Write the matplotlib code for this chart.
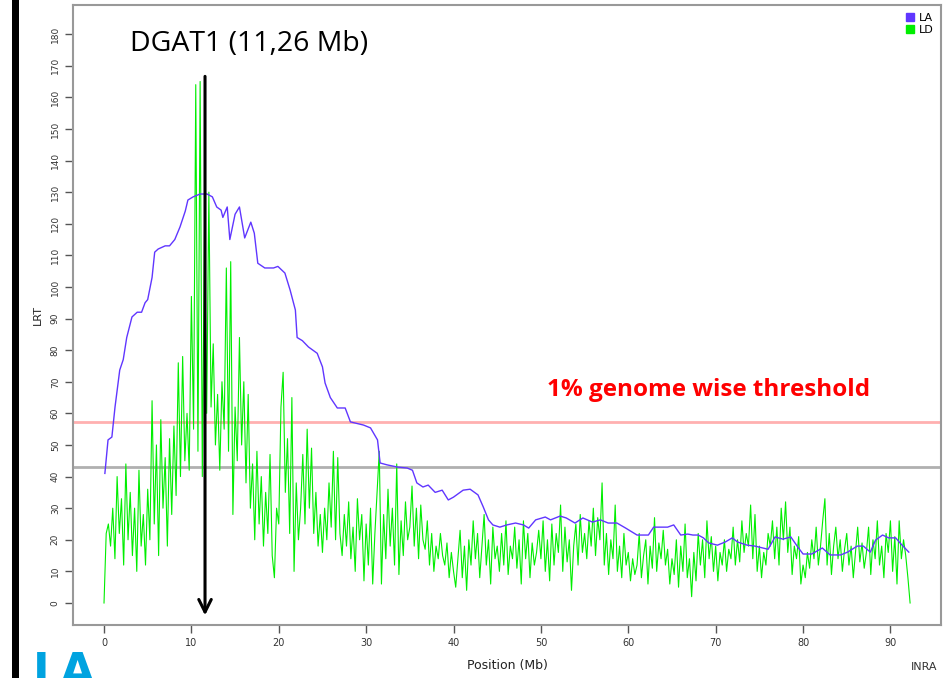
import numpy as np
import matplotlib
matplotlib.use("Agg")
import matplotlib.pyplot as plt
from matplotlib.lines import Line2D
from matplotlib.patches import Rectangle

# LA curve (smooth), key points: position (Mb), LRT
la_pos = [0.1, 0.46, 0.9, 1.26, 1.8, 2.2, 2.6, 3.2, 3.8, 4.3, 4.7, 5.0, 5.5, 5.8, 6.2, 7.0,
          7.5, 8.1, 8.7, 9.3, 9.6, 10.2, 11.0, 11.8, 12.4, 12.9, 13.4, 13.6, 14.1, 14.4, 15.0,
          15.5, 16.1, 16.8, 17.2, 17.6, 18.4, 19.4, 19.9, 20.7, 21.3, 21.9, 22.1, 22.7, 23.4,
          24.4, 25.0, 25.3, 25.9, 26.7, 27.6, 28.2, 29.7, 30.5, 31.3, 31.6, 32.4, 33.6, 34.7,
          35.3, 35.8, 36.5, 37.1, 37.9, 38.7, 39.4, 40.0, 41.1, 41.9, 42.8, 43.4, 44.0, 44.5,
          45.3, 46.1, 47.1, 48.0, 48.6, 49.4, 50.5, 51.1, 52.2, 52.9, 53.9, 54.8, 55.9, 56.8,
          57.7, 58.7, 59.7, 61.0, 62.3, 62.9, 64.5, 65.2, 66.0, 66.8, 67.4, 68.0, 68.6, 69.2,
          70.2, 71.1, 71.9, 72.5, 73.6, 74.5, 76.0, 76.8, 77.7, 78.6, 79.4, 80.0, 81.0, 82.2,
          83.1, 84.3, 85.1, 86.2, 86.9, 87.7, 88.3, 89.1, 89.8, 90.6, 91.1, 92.1]
la_lrt = [41, 51.6, 52.5, 62, 73.7, 77, 84, 90.5, 92, 92, 95, 96, 103, 111, 112, 113,
          113, 115, 119, 124, 127.5, 128.5, 129.4, 129.4, 128.5, 125.3, 124.3, 122, 125.3, 115, 123,
          125.3, 115.5, 120.5, 117, 107.5, 106, 106, 106.5, 104.4, 99, 92.7, 84, 83, 81,
          79, 74.7, 69.6, 65, 61.7, 61.7, 57.3, 56.3, 55.4, 51.6, 44.3, 43.7, 43, 42.7,
          42, 38, 36.7, 37.3, 35, 35.7, 32.6, 33.5, 35.7, 36, 34.2, 30.4, 26.3, 24.7,
          24, 24.7, 25.3, 24.7, 23.7, 26.3, 27.2, 26.3, 27.5, 26.9, 25.3, 26.9, 25.6, 26.3,
          25.3, 25.3, 23.7, 21.5, 21.5, 24, 24, 24.7, 21.5, 21.8, 21.5, 21.5, 20.6, 19,
          18.3, 19.3, 20.6, 19.3, 18.3, 18, 17, 20.9, 20.2, 20.9, 17.7, 15.5, 15.5, 17.4,
          15.2, 15.2, 16.1, 18, 18, 16.1, 19.9, 21.5, 20.6, 20.6, 19, 16.1]

# LD curve, one value every 0.25 Mb from 0 Mb
ld_step = 0.25
ld_lrt = [
    0, 22, 25, 18, 30, 14, 40, 22, 33, 12, 44, 20, 35, 15, 30, 10, 42, 18, 28, 12,
    36, 20, 64, 25, 50, 15, 58, 30, 46, 18, 52, 28, 56, 34, 76, 40, 78, 45, 60, 42,
    97, 55, 164, 48, 165, 40, 118, 60, 130, 62, 82, 50, 66, 42, 70, 55, 106, 48, 108, 28,
    62, 45, 84, 50, 70, 38, 66, 30, 44, 20, 48, 25, 40, 18, 35, 22, 47, 15, 8, 30,
    25, 62, 73, 35, 52, 22, 65, 10, 38, 20, 30, 47, 25, 55, 30, 49, 22, 35, 18, 28,
    16, 30, 20, 38, 24, 48, 20, 46, 22, 15, 28, 18, 32, 14, 24, 10, 33, 20, 28, 7,
    25, 12, 30, 6, 22, 35, 48, 6, 28, 14, 36, 18, 30, 12, 44, 9, 26, 15, 32, 20,
    24, 37, 18, 30, 14, 31, 20, 17, 26, 12, 22, 10, 18, 14, 22, 15, 12, 19, 8, 16,
    10, 5, 14, 23, 8, 18, 4, 20, 12, 26, 14, 22, 8, 18, 28, 12, 20, 6, 24, 14,
    18, 10, 22, 12, 26, 9, 18, 14, 24, 11, 20, 6, 26, 14, 22, 8, 19, 12, 16, 23,
    14, 26, 10, 20, 7, 25, 12, 22, 16, 31, 10, 24, 13, 20, 4, 18, 25, 12, 28, 16,
    22, 14, 26, 18, 30, 15, 27, 20, 38, 12, 22, 9, 20, 14, 31, 10, 18, 8, 22, 12,
    16, 7, 14, 9, 12, 22, 8, 15, 20, 6, 18, 11, 27, 10, 19, 14, 23, 12, 17, 6,
    14, 9, 20, 5, 18, 10, 25, 8, 14, 2, 16, 7, 22, 12, 20, 8, 26, 14, 21, 10,
    18, 7, 16, 12, 20, 10, 17, 14, 24, 12, 20, 13, 26, 16, 22, 18, 31, 14, 28, 10,
    18, 8, 16, 12, 22, 18, 26, 14, 24, 12, 30, 20, 32, 16, 24, 9, 18, 14, 21, 6,
    12, 8, 16, 11, 20, 14, 24, 12, 18, 26, 33, 12, 22, 9, 18, 24, 14, 20, 10, 17,
    22, 12, 18, 8, 16, 24, 13, 19, 11, 16, 24, 9, 20, 14, 26, 12, 18, 8, 22, 16,
    26, 10, 21, 6, 26, 14, 20, 15, 8, 0]
ld_pos = np.arange(len(ld_lrt)) * ld_step

threshold_1pct = 57.3
threshold_grey = 43.0
dgat1_pos = 11.56

blue = '#6036ff'
green = '#00ee00'

fig = plt.figure(figsize=(9.43, 6.78), dpi=100)
ax = fig.add_axes([0.0774, 0.078, 0.9206, 0.9146])

ax.axhline(threshold_1pct, color='#ffb0b0', lw=2)
ax.axhline(threshold_grey, color='#b0b0b0', lw=2)
ax.plot(ld_pos, ld_lrt, color=green, lw=0.8)
ax.plot(la_pos, la_lrt, color=blue, lw=1.0)

ax.set_xlim(-3.55, 95.8)
ax.set_ylim(-7, 189.2)
ax.set_xticks(range(0, 91, 10))
ax.set_yticks(range(0, 181, 10))
ax.tick_params(axis='x', labelsize=7, colors='#555555', labelcolor='#333333', length=6, width=1)
ax.tick_params(axis='y', labelsize=6.5, colors='#555555', labelcolor='#333333', length=6, width=1,
               labelrotation=90)
for lab in ax.get_yticklabels():
    lab.set_va('center')
for s in ax.spines.values():
    s.set_color('#999999')
    s.set_linewidth(1.5)

ax.set_xlabel('Position (Mb)', fontsize=9, color='#222222', labelpad=8)
ax.set_ylabel('LRT', fontsize=8, color='#222222', labelpad=6)

# arrow pointing at DGAT1
ax.annotate('', xy=(dgat1_pos, -4.8), xytext=(dgat1_pos, 167.5),
            arrowprops=dict(arrowstyle='->,head_length=0.9,head_width=0.45', lw=2.2, color='black'))
ax.text(16.6, 176.8, 'DGAT1 (11,26 Mb)', fontsize=20.5, family='Open Sans', ha='center', va='center')
ax.text(69.2, 67.4, '1% genome wise threshold', fontsize=17.5, family='Open Sans',
        fontweight='bold', color='#ff0000', ha='center', va='center')

handles = [Line2D([], [], marker='s', ls='none', color=blue, markersize=6),
           Line2D([], [], marker='s', ls='none', color=green, markersize=6)]
ax.legend(handles, ['LA', 'LD'], loc='upper right', frameon=False, fontsize=8,
          handlelength=0.8, handletextpad=0.4, labelspacing=0.2, borderaxespad=0.3)

fig.text(0.98, 1 - 667 / 678, 'INRA', fontsize=8, color='#333333', ha='center', va='center')
fig.text(0.035, 1 - 651 / 678, 'LA', fontsize=32, fontweight='bold', color='#00a3e0',
         ha='left', va='top')
fig.add_artist(Rectangle((12 / 943, 0), 7 / 943, 1, transform=fig.transFigure,
                         color='black', lw=0))

fig.savefig('out.png', dpi=100)
